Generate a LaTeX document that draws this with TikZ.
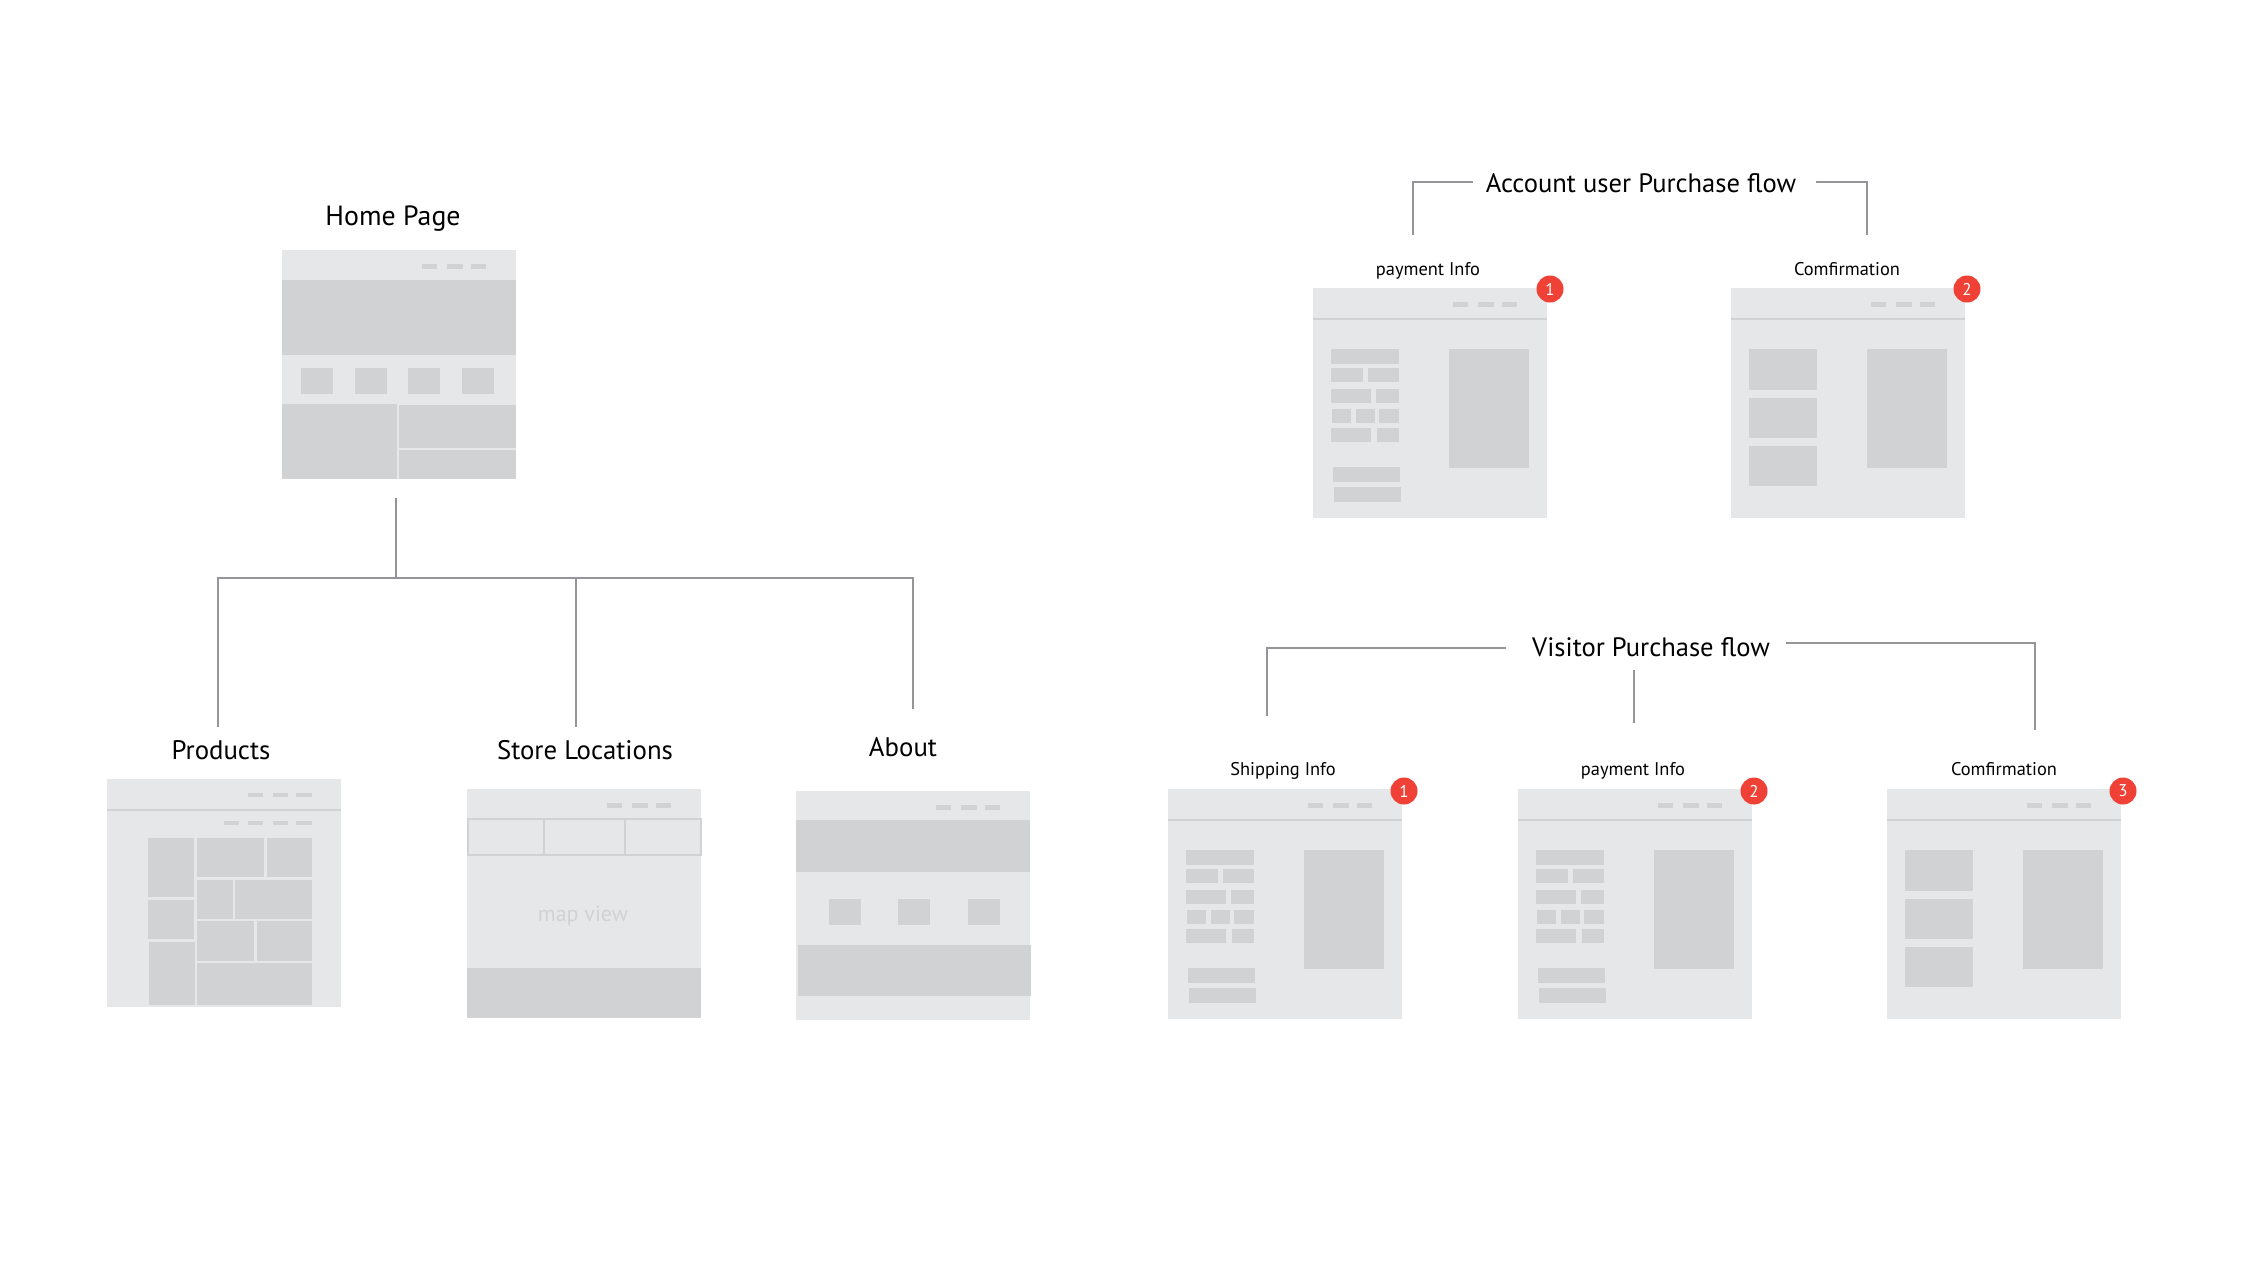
\documentclass[tikz,border=0pt]{standalone}
\usepackage{fontspec}
\setmainfont{PT Sans}
\definecolor{wfbg}{HTML}{E6E7E8}
\definecolor{wfblk}{HTML}{D1D2D4}
\definecolor{conn}{HTML}{939598}
\definecolor{badgered}{HTML}{EF4136}
\tikzset{
  bg/.style={fill=wfbg,draw=none},
  blk/.style={fill=wfblk,draw=none},
  conline/.style={draw=conn,line width=1.1pt},
  sepline/.style={draw=wfblk,line width=1.1pt},
  bigtitle/.style={font=\fontsize{13.9}{17}\selectfont,anchor=base,inner sep=0pt},
  pagetitle/.style={font=\fontsize{13.4}{16}\selectfont,anchor=base,inner sep=0pt},
  flowtitle/.style={font=\fontsize{13.3}{16}\selectfont,anchor=base,inner sep=0pt},
  smalltitle/.style={font=\fontsize{9.2}{11}\selectfont,anchor=base,inner sep=0pt},
  badge/.style={circle,fill=badgered,draw=none,text=white,inner sep=0pt,minimum size=13.5pt,font=\fontsize{8.5}{10}\selectfont},
  dashes/.pic={
    \fill[wfblk] (140,14) rectangle (155,19);
    \fill[wfblk] (165,14) rectangle (181,19);
    \fill[wfblk] (189,14) rectangle (204,19);
  },
  payframe/.pic={
    \fill[bg] (0,0) rectangle (234,230);
    \draw[sepline] (0,31) -- (234,31);
    \pic at (0,0) {dashes};
    \fill[blk] (18,61) rectangle (86,76);
    \fill[blk] (18,80) rectangle (50,94);
    \fill[blk] (55,80) rectangle (86,94);
    \fill[blk] (18,101) rectangle (58,115);
    \fill[blk] (63,101) rectangle (86,115);
    \fill[blk] (19,121) rectangle (38,135);
    \fill[blk] (43,121) rectangle (62,135);
    \fill[blk] (66,121) rectangle (86,135);
    \fill[blk] (18,140) rectangle (58,154);
    \fill[blk] (64,140) rectangle (86,154);
    \fill[blk] (20,179) rectangle (87,194);
    \fill[blk] (21,199) rectangle (88,214);
    \fill[blk] (136,61) rectangle (216,180);
  },
  confframe/.pic={
    \fill[bg] (0,0) rectangle (234,230);
    \draw[sepline] (0,31) -- (234,31);
    \pic at (0,0) {dashes};
    \fill[blk] (18,61) rectangle (86,102);
    \fill[blk] (18,110) rectangle (86,150);
    \fill[blk] (18,158) rectangle (86,198);
    \fill[blk] (136,61) rectangle (216,180);
  }
}
\begin{document}
\begin{tikzpicture}[x=0.5pt,y=-0.5pt]
\useasboundingbox (0,0) rectangle (2250,1275);
\fill[white] (0,0) rectangle (2250,1275);

% ---------------- Home page ----------------
\node[bigtitle] (thome) at (393,225) {Home Page};
\begin{scope}[shift={(282,250)}]
  \fill[bg] (0,0) rectangle (234,229);
  \pic at (0,0) {dashes};
  \fill[blk] (0,30) rectangle (234,105);
  \fill[blk] (19,118) rectangle (51,144);
  \fill[blk] (73,118) rectangle (105,144);
  \fill[blk] (126,118) rectangle (158,144);
  \fill[blk] (180,118) rectangle (212,144);
  \fill[blk] (0,154) rectangle (115,229);
  \fill[blk] (117,155) rectangle (234,198);
  \fill[blk] (117,200) rectangle (234,229);
\end{scope}
\coordinate (homebot) at (396,498);
\coordinate (hub) at (396,578);

% ---------------- Products ----------------
\node[pagetitle] (tprod) at (221,759) {Products};
\begin{scope}[shift={(107,779)}]
  \fill[bg] (0,0) rectangle (234,228);
  \draw[sepline] (0,31) -- (234,31);
  \fill[wfblk] (141,14) rectangle (156,18);
  \fill[wfblk] (166,14) rectangle (181,18);
  \fill[wfblk] (189,14) rectangle (205,18);
  \fill[wfblk] (117,42) rectangle (132,46);
  \fill[wfblk] (141,42) rectangle (156,46);
  \fill[wfblk] (166,42) rectangle (181,46);
  \fill[wfblk] (189,42) rectangle (205,46);
\end{scope}
\fill[blk] (148,838) rectangle (194,897);
\fill[blk] (197,838) rectangle (264,877);
\fill[blk] (267,838) rectangle (312,877);
\fill[blk] (148,900) rectangle (194,939);
\fill[blk] (197,880) rectangle (233,919);
\fill[blk] (235,880) rectangle (312,919);
\fill[blk] (149,942) rectangle (195,1005);
\fill[blk] (197,921) rectangle (254,961);
\fill[blk] (257,921) rectangle (312,961);
\fill[blk] (197,963) rectangle (312,1005);

% ---------------- Store Locations ----------------
\node[pagetitle] (tstore) at (585,759) {Store Locations};
\begin{scope}[shift={(467,789)}]
  \fill[bg] (0,0) rectangle (234,229);
  \pic at (0,0) {dashes};
  \draw[draw=wfblk,line width=0.9pt] (1,30) rectangle (77,66);
  \draw[draw=wfblk,line width=0.9pt] (77,30) rectangle (158,66);
  \draw[draw=wfblk,line width=0.9pt] (158,30) rectangle (234,66);
  \fill[blk] (0,179) rectangle (234,229);
\end{scope}
\node[font=\fontsize{11}{13}\selectfont,text=wfblk,anchor=base,inner sep=0pt] (mapv) at (583,921) {map view};

% ---------------- About ----------------
\node[pagetitle] (tabout) at (903,756) {About};
\begin{scope}[shift={(796,791)}]
  \fill[bg] (0,0) rectangle (234,229);
  \pic at (0,0) {dashes};
  \fill[blk] (0,29) rectangle (234,81);
  \fill[blk] (33,108) rectangle (65,134);
  \fill[blk] (102,108) rectangle (134,134);
  \fill[blk] (172,108) rectangle (204,134);
  \fill[blk] (2,154) rectangle (235,205);
\end{scope}

% tree connectors
\coordinate (dprod) at (218,727);
\coordinate (dstore) at (576,727);
\coordinate (dabout) at (913,709);
\draw[conline] (homebot) -- (hub);
\draw[conline] (dprod) |- (dabout |- hub) -- (dabout);
\draw[conline] (dstore) -- (dstore |- hub);

% ---------------- Account user Purchase flow ----------------
\node[flowtitle] (tacct) at (1641,192) {Account user Purchase flow};
\coordinate (accL) at (1413,235);
\coordinate (accR) at (1867,235);
\draw[conline] (accL) |- (1473,182);
\draw[conline] (accR) |- (1816,182);

\node[smalltitle] (tpay1) at (1428,275) {payment Info};
\pic at (1313,288) {payframe};
\node[badge] (b11) at (1550,289) {1};

\node[smalltitle] (tconf1) at (1847,275) {Comfirmation};
\pic at (1731,288) {confframe};
\node[badge] (b12) at (1967,289) {2};

% ---------------- Visitor Purchase flow ----------------
\node[flowtitle] (tvis) at (1651,656) {Visitor Purchase flow};
\coordinate (visL) at (1267,716);
\coordinate (visM) at (1634,723);
\coordinate (visR) at (2035,730);
\draw[conline] (visL) |- (1506,648);
\draw[conline] (visR) |- (1786,643);
\draw[conline] (visM) -- (1634,670);

\node[smalltitle] (tship) at (1283,775) {Shipping Info};
\pic at (1168,789) {payframe};
\node[badge] (b21) at (1404,791) {1};

\node[smalltitle] (tpay2) at (1633,775) {payment Info};
\pic at (1518,789) {payframe};
\node[badge] (b22) at (1754,791) {2};

\node[smalltitle] (tconf2) at (2004,775) {Comfirmation};
\pic at (1887,789) {confframe};
\node[badge] (b23) at (2123,791) {3};
\end{tikzpicture}
\end{document}
